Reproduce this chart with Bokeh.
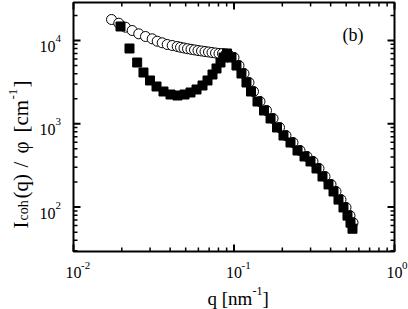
import math
from bokeh.plotting import figure
from bokeh.models import Label, Range1d
from bokeh.core.properties import value
from bokeh.embed import file_html
from bokeh.resources import INLINE

# open circles
q_open = [0.01725, 0.01915, 0.02109, 0.02321, 0.02551, 0.02809, 0.03093, 0.03323,
          0.03569, 0.03835, 0.04121, 0.04427, 0.04642, 0.04881, 0.05132, 0.05396,
          0.05675, 0.05967, 0.06275, 0.06597, 0.06937, 0.07294, 0.07670, 0.08064,
          0.08479, 0.08917, 0.09376, 0.1000, 0.1074, 0.1154, 0.1240, 0.1323,
          0.1452, 0.1594, 0.1751, 0.1921, 0.2108, 0.2331, 0.2578, 0.2850,
          0.3105, 0.3385, 0.3689, 0.4022, 0.4321, 0.4641, 0.4986, 0.5281, 0.5513]
I_open = [17870, 16130, 14440, 13180, 12030, 11170, 10480, 9808,
          9385, 8954, 8710, 8472, 8287, 8128, 7973, 7842,
          7713, 7586, 7482, 7379, 7278, 7178, 7079, 6982,
          6982, 6887, 6607, 6250, 5010, 4016, 3132, 2442,
          1852, 1444, 1158, 903, 723, 596, 478, 405,
          353, 291, 233, 187, 154, 123, 99, 79, 65]

# filled squares
q_fill = [0.01963, 0.02233, 0.02493, 0.02729, 0.02996, 0.03290, 0.03637, 0.04022,
          0.04446, 0.04916, 0.05358, 0.05840, 0.06365, 0.06838, 0.07345, 0.07780,
          0.08239, 0.08602, 0.09045, 0.09647, 0.1036, 0.1113, 0.1196, 0.1276,
          0.1401, 0.1538, 0.1689, 0.1853, 0.2034, 0.2249, 0.2487, 0.2750,
          0.2996, 0.3266, 0.3559, 0.3880, 0.4169, 0.4478, 0.4810, 0.5095,
          0.5319, 0.5473]
I_fill = [14730, 8017, 5443, 4128, 3310, 2804, 2442, 2247,
          2186, 2247, 2376, 2581, 2883, 3310, 3906, 4612,
          5443, 6250, 6982, 6250, 5010, 4016, 3132, 2442,
          1852, 1444, 1158, 903, 723, 596, 478, 405,
          353, 291, 233, 187, 154, 123, 99, 79,
          65, 55]

# axes: limits, ticks and tick labels
XLIM = (0.01, 1.0)
YLIM = (29.3, 28590)
x_major = [0.01, 0.1, 1.0]
x_minor = [k * 10.0 ** d for d in (-2, -1) for k in range(2, 10)]
x_exp = ["-2", "-1", "0"]
y_major = [100, 1000, 10000]
y_minor = [k * 10.0 ** d for d in (1, 2, 3, 4) for k in range(2, 10) if 30 <= k * 10.0 ** d <= 20000]
y_exp = ["2", "3", "4"]

SERIF = "Liberation Serif"
W, H = 408, 309
BOX_L, BOX_R, BOX_T, BOX_B = 73, 394, 2, 251   # plot box inside the canvas (px)

lx0, lx1 = math.log10(XLIM[0]), math.log10(XLIM[1])
ly0, ly1 = math.log10(YLIM[0]), math.log10(YLIM[1])
sx = (lx1 - lx0) / (BOX_R - BOX_L)
sy = (ly1 - ly0) / (BOX_B - BOX_T)
x_range = Range1d(10 ** (lx0 - BOX_L * sx), 10 ** (lx1 + (W - BOX_R) * sx))
y_range = Range1d(10 ** (ly0 - (H - BOX_B) * sy), 10 ** (ly1 + BOX_T * sy))

p = figure(width=W, height=H, x_axis_type="log", y_axis_type="log",
           x_range=x_range, y_range=y_range,
           x_axis_location=None, y_axis_location=None,
           output_backend="svg", toolbar_location=None, min_border=0)
p.grid.visible = False
p.outline_line_color = None
p.background_fill_color = "white"
p.border_fill_color = "white"

# data
p.scatter(q_open, I_open, marker="circle", size=10, fill_color="white",
          line_color="black", line_width=1)
p.scatter(q_fill, I_fill, marker="square", size=9, fill_color="black",
          line_color="black")

# plot box
p.quad(left=[XLIM[0]], right=[XLIM[1]], bottom=[YLIM[0]], top=[YLIM[1]],
       fill_color=None, line_color="black", line_width=2)

# inward ticks on all four sides
def rays(xs, ys, ang, length, width):
    p.ray(x=xs, y=ys, length=length, length_units="screen", angle=ang,
          line_color="black", line_width=width)

for vals, L, w in ((x_major, 7, 2), (x_minor, 4, 1.5)):
    rays(vals, [YLIM[0]] * len(vals), math.pi / 2, L, w)
    rays(vals, [YLIM[1]] * len(vals), -math.pi / 2, L, w)
for vals, L, w in ((y_major, 7, 2), (y_minor, 4, 1.5)):
    rays([XLIM[0]] * len(vals), vals, 0.0, L, w)
    rays([XLIM[1]] * len(vals), vals, math.pi, L, w)

# tick labels (base 10 with raised exponent)
p.text(x=x_major, y=[YLIM[0]] * 3, text=["10"] * 3, text_font=value(SERIF),
       text_font_size="16px", text_color="black", text_align="center",
       text_baseline="alphabetic", y_offset=21)
p.text(x=x_major, y=[YLIM[0]] * 3, text=x_exp, text_font=value(SERIF),
       text_font_size="11px", text_color="black", text_align="left",
       text_baseline="alphabetic", x_offset=7.5, y_offset=14)
p.text(x=[XLIM[0]] * 3, y=y_major, text=["10"] * 3, text_font=value(SERIF),
       text_font_size="16px", text_color="black", text_align="right",
       text_baseline="alphabetic", x_offset=-18, y_offset=6)
p.text(x=[XLIM[0]] * 3, y=y_major, text=y_exp, text_font=value(SERIF),
       text_font_size="11px", text_color="black", text_align="left",
       text_baseline="alphabetic", x_offset=-18, y_offset=-2)

# free texts, positioned in canvas pixels (origin bottom-left)
def lab(text, px, py, size, angle=0.0):
    p.add_layout(Label(x=px, y=H - py, x_units="screen", y_units="screen",
                       text=text, text_font=SERIF, text_font_size=f"{size}px",
                       text_color="black", angle=angle,
                       text_align="left", text_baseline="alphabetic"))

# x axis title
lab("q [nm", 207, 298, 19)
lab("-1", 252, 290, 12)
lab("]", 262, 298, 19)

# y axis title (rotated)
A = math.pi / 2
lab("I", 20, 228, 21, A)
lab("coh", 23, 220, 14, A)
lab("(q)", 20, 198, 21, A)
lab("/", 20, 167, 21, A)
lab("\u03c6", 20, 153, 21, A)
lab("[cm", 20, 132, 21, A)
lab("-1", 12, 99, 13, A)
lab("]", 20, 87, 21, A)

# panel tag
lab("(b)", 342, 34, 18)

open("out.html", "w").write(file_html(p, INLINE))
